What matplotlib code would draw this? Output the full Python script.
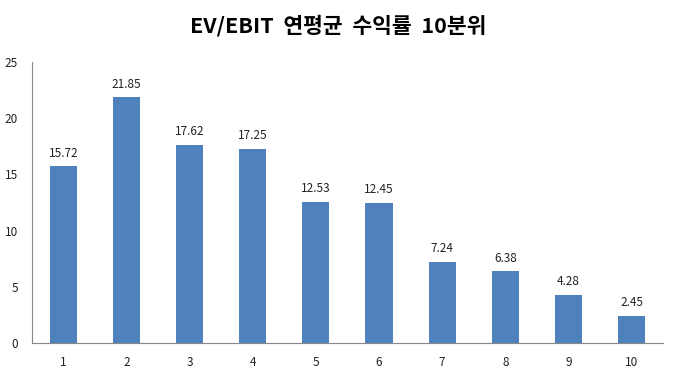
import numpy as np
import matplotlib.pyplot as plt

plt.rcParams['font.family'] = ['Noto Sans CJK KR', 'DejaVu Sans']

deciles = ['1', '2', '3', '4', '5', '6', '7', '8', '9', '10']
returns = [15.72, 21.85, 17.62, 17.25, 12.53, 12.45, 7.24, 6.38, 4.28, 2.45]
title = 'EV/EBIT  연평균  수익률  10분위'

fig = plt.figure(figsize=(6.76, 3.75), dpi=100)
ax = fig.add_axes([0.047, 0.085, 0.934, 0.75])

x = np.arange(len(deciles))
bars = ax.bar(x, returns, width=0.43, color='#4F81BD')
for b, v in zip(bars, returns):
    ax.text(b.get_x() + b.get_width() / 2, v + 0.6, f'{v:.2f}',
            ha='center', va='bottom', fontsize=8.5, color='#222222')

ax.set_xlim(-0.5, len(deciles) - 0.5)
ax.set_ylim(0, 25)
ax.set_yticks(range(0, 26, 5))
ax.set_xticks(x)
ax.set_xticklabels(deciles)
ax.tick_params(length=0, labelsize=8.5, colors='#222222')
ax.tick_params(axis='y', pad=10)
ax.tick_params(axis='x', pad=9)
for s in ['top', 'right']:
    ax.spines[s].set_visible(False)
for s in ['left', 'bottom']:
    ax.spines[s].set_color('#888888')
    ax.spines[s].set_linewidth(0.8)

fig.text(0.5, 0.932, title, ha='center', va='center',
         fontsize=15.5, fontweight='bold')

plt.savefig('out.png', dpi=100)
